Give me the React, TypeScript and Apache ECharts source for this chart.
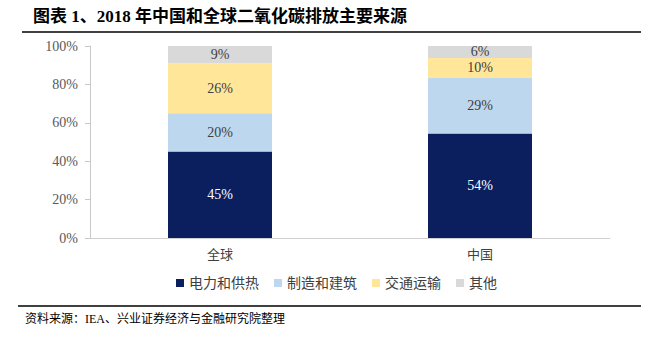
import React, { useEffect, useRef } from "react";
import * as echarts from "echarts";

const categories = ["全球", "中国"];
const seriesNames = ["电力和供热", "制造和建筑", "交通运输", "其他"];
const power = [45, 54.4];
const manufacturing = [20, 29.2];
const transport = [26, 10.2];
const other = [9, 6.2];
const yTicks = [0, 20, 40, 60, 80, 100];

const colors = ["#0b1f5e", "#bdd7ee", "#ffe699", "#d9d9d9"];
const labelColors = ["#ffffff", "#404040", "#404040", "#404040"];
const serif = "'Liberation Serif', 'Times New Roman', 'Noto Sans CJK SC', serif";

export default function App() {
  const ref = useRef<HTMLDivElement>(null);
  useEffect(() => {
    const chart = echarts.init(ref.current!, null, { renderer: "svg" });
    const values = [power, manufacturing, transport, other];
    chart.setOption({
      animation: false,
      backgroundColor: "#ffffff",
      grid: { left: 90, right: 43, top: 46, bottom: 99 },
      legend: {
        bottom: 42,
        left: 171,
        itemWidth: 8,
        itemHeight: 8,
        itemGap: 15,
        icon: "rect",
        textStyle: { color: "#404040", fontSize: 14, fontFamily: serif },
        data: seriesNames,
      },
      xAxis: {
        type: "category",
        data: categories,
        axisLine: { lineStyle: { color: "#d0d0d0" } },
        axisTick: { show: false },
        axisLabel: { color: "#404040", fontSize: 13, fontFamily: serif, margin: 10 },
      },
      yAxis: {
        type: "value",
        min: 0,
        max: 100,
        interval: 20,
        axisLine: { show: true, lineStyle: { color: "#c8c8c8" } },
        axisTick: { show: true, length: 5, lineStyle: { color: "#c8c8c8" } },
        splitLine: { show: false },
        axisLabel: {
          color: "#595959",
          fontSize: 14,
          fontFamily: serif,
          margin: 12,
          formatter: (v: number) => (yTicks.includes(v) ? v + "%" : ""),
        },
      },
      series: seriesNames.map((name, i) => ({
        name,
        type: "bar",
        stack: "total",
        barWidth: "40%",
        data: values[i],
        itemStyle: { color: colors[i] },
        label: {
          show: true,
          position: "inside",
          formatter: (p: any) => Math.round(p.value) + "%",
          color: labelColors[i],
          fontSize: 14,
          fontFamily: serif,
        },
      })),
      graphic: [
        {
          type: "text",
          left: 33,
          top: 8,
          style: {
            text: "图表 1、2018 年中国和全球二氧化碳排放主要来源",
            fontSize: 17,
            fontWeight: "bold",
            fontFamily: serif,
            fill: "#000000",
          },
        },
        {
          type: "line",
          shape: { x1: 22, y1: 32, x2: 641, y2: 32 },
          style: { stroke: "#000000", lineWidth: 1.5 },
        },
        {
          type: "line",
          shape: { x1: 18, y1: 306, x2: 641, y2: 306 },
          style: { stroke: "#000000", lineWidth: 1.5 },
        },
        {
          type: "text",
          left: 25,
          top: 313,
          style: {
            text: "资料来源：IEA、兴业证券经济与金融研究院整理",
            fontSize: 12,
            fontFamily: serif,
            fill: "#000000",
          },
        },
      ],
    });
    return () => chart.dispose();
  }, []);
  return (
    <div
      ref={ref}
      style={{ position: "fixed", left: 0, top: 0, width: 653, height: 337 }}
    />
  );
}
